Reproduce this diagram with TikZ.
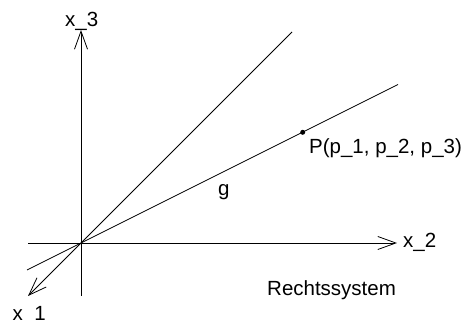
\documentclass[tikz,border=0pt]{standalone}
\usepackage{fontspec}
\setmainfont{Liberation Sans}
\usetikzlibrary{arrows.meta}

\begin{document}
\begin{tikzpicture}[
    x=1pt, y=-1pt,
    axis/.style={line width=0.8pt},
    arrow/.style={axis, -{Straight Barb[length=18pt, width=13pt, line width=0.8pt]}},
    label/.style={anchor=base west, inner sep=0pt, font=\fontsize{20.5}{24}\selectfont}
  ]
    \useasboundingbox (0,0) rectangle (467,320);

    % axes and lines through the origin
    \coordinate (o) at (81,243);
    \coordinate (x3bot) at (81,296);
    \coordinate (x3top) at (81,30);
    \coordinate (x2left) at (28,243);
    \coordinate (x2right) at (397,243);
    \coordinate (x1tip) at (28,296);
    \coordinate (diagtop) at (292,32);
    \coordinate (gleft) at (27,270);
    \coordinate (gright) at (398,84.5);

    \draw[arrow] (x3bot) -- (x3top);
    \draw[arrow] (x2left) -- (x2right);
    \draw[arrow] (diagtop) -- (x1tip);
    \draw[axis] (gleft) -- (gright);

    % point P on g
    \node[circle, fill, inner sep=0pt, minimum size=5pt] (p) at (302.7,132.3) {};

    \node[label] (x3lab) at (65,27) {x\textunderscore 3};
    \node[label] (x2lab) at (403,248) {x\textunderscore 2};
    \node[label] (x1lab) at (12.5,320.5) {x\textunderscore 1};
    \node[label] (plab) at (309,153.3) {P(p\textunderscore 1, p\textunderscore 2, p\textunderscore 3)};
    \node[label] (glab) at (218,196) {g};
    \node[label] (rlab) at (267,296) {Rechtssystem};
  \end{tikzpicture}
\end{document}
